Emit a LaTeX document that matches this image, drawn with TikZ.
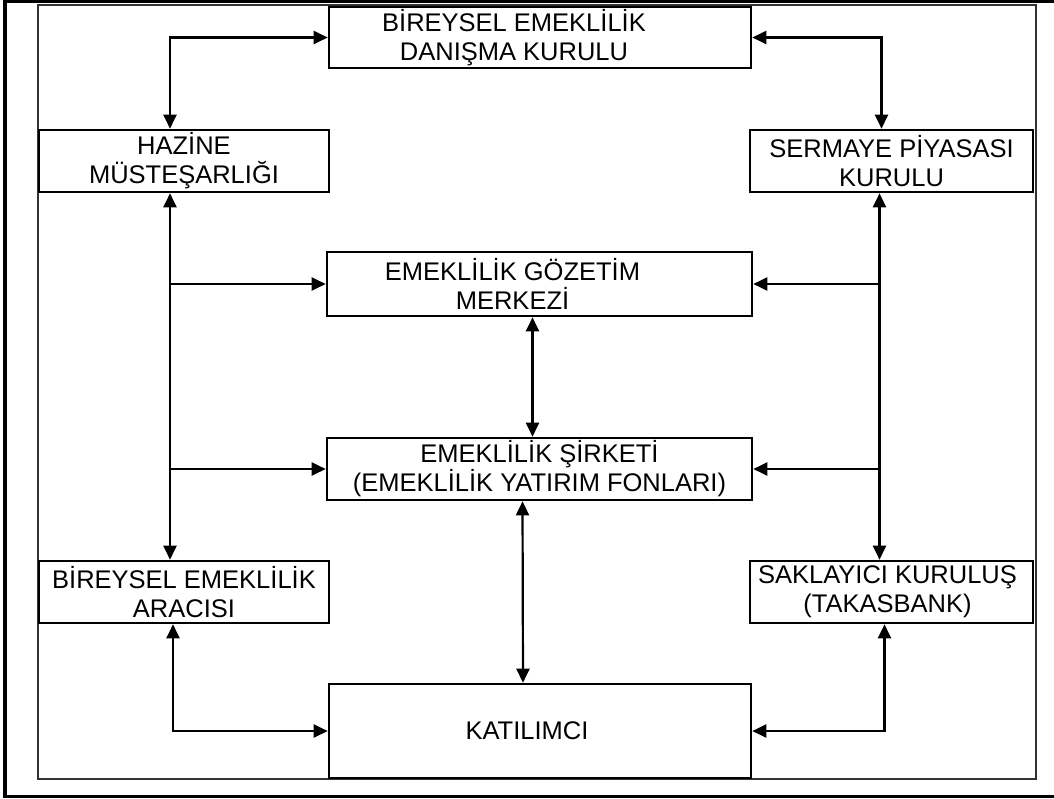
\documentclass[tikz,border=0pt]{standalone}
\usepackage{fontspec}
\setmainfont{Liberation Sans}
\usetikzlibrary{arrows.meta}
\begin{document}
\begin{tikzpicture}[x=1pt,y=-1pt,
  >={Triangle[length=14pt,width=13pt]},
  box/.style={draw, line width=2.6pt, inner sep=0pt, align=center,
    font=\fontsize{25.5}{29}\selectfont},
  txt/.style={align=center, font=\fontsize{25.5}{29}\selectfont},
  arr/.style={line width=2.2pt}]
\useasboundingbox (0,0) rectangle (1054,798);
% frames
\draw[line width=3.2pt] (1056,1.5) -- (5,1.5) -- (5,796.5) -- (1056,796.5);
\draw[line width=1.2pt, black!80] (38,5) rectangle (1036,779);
% boxes
\node[box, minimum width=422pt, minimum height=61pt,
  label={[txt,xshift=-26pt]center:BİREYSEL EMEKLİLİK\\DANIŞMA KURULU}] (danisma) at (540,37.5) {};
\node[box, minimum width=290pt, minimum height=62pt] (hazine) at (184,161) {HAZİNE\\MÜSTEŞARLIĞI};
\node[box, minimum width=283pt, minimum height=62pt] (sermaye) at (891.5,161) {SERMAYE PİYASASI\\KURULU};
\node[box, minimum width=425pt, minimum height=64pt,
  label={[txt,xshift=-27pt]center:EMEKLİLİK GÖZETİM\\MERKEZİ}] (gozetim) at (539.5,284) {};
\node[box, minimum width=425pt, minimum height=62pt] (sirket) at (539.5,469) {EMEKLİLİK ŞİRKETİ\\(EMEKLİLİK YATIRIM FONLARI)};
\node[box, minimum width=290pt, minimum height=62pt] (araci) at (184,592) {BİREYSEL EMEKLİLİK\\ARACISI};
\node[box, minimum width=283pt, minimum height=62pt,
  label={[txt,xshift=-4pt]center:SAKLAYICI KURULUŞ\\(TAKASBANK)}] (saklayici) at (891.5,592) {};
\node[box, minimum width=422pt, minimum height=94pt,
  label={[txt,xshift=-13pt]center:KATILIMCI}] (katilimci) at (540,731) {};
% connectors
\draw[arr,<->] (danisma.west) -| ([xshift=-14pt]hazine.north);
\draw[arr,<->] (danisma.east) -| ([xshift=-10pt]sermaye.north);
\draw[arr,<->] ([xshift=-14pt]hazine.south) -- ([xshift=-14pt]araci.north);
\coordinate (lg) at ([xshift=-14pt]hazine.south |- gozetim.west);
\coordinate (ls) at ([xshift=-14pt]hazine.south |- sirket.west);
\draw[arr,->] (lg) -- (gozetim.west);
\draw[arr,->] (ls) -- (sirket.west);
\draw[arr,<->] ([xshift=-12pt]sermaye.south) -- ([xshift=-12pt]saklayici.north);
\coordinate (rg) at ([xshift=-12pt]sermaye.south |- gozetim.east);
\coordinate (rs) at ([xshift=-12pt]sermaye.south |- sirket.east);
\draw[arr,->] (rg) -- (gozetim.east);
\draw[arr,->] (rs) -- (sirket.east);
\draw[arr,<->] ([xshift=-7pt]gozetim.south) -- ([xshift=-7pt]sirket.north);
\draw[arr,<->] ([xshift=-17pt]sirket.south) -- ([xshift=-17pt]katilimci.north);
\draw[arr,<->] ([xshift=-11pt]araci.south) |- (katilimci.west);
\draw[arr,<->] ([xshift=-7pt]saklayici.south) |- (katilimci.east);
\end{tikzpicture}
\end{document}
